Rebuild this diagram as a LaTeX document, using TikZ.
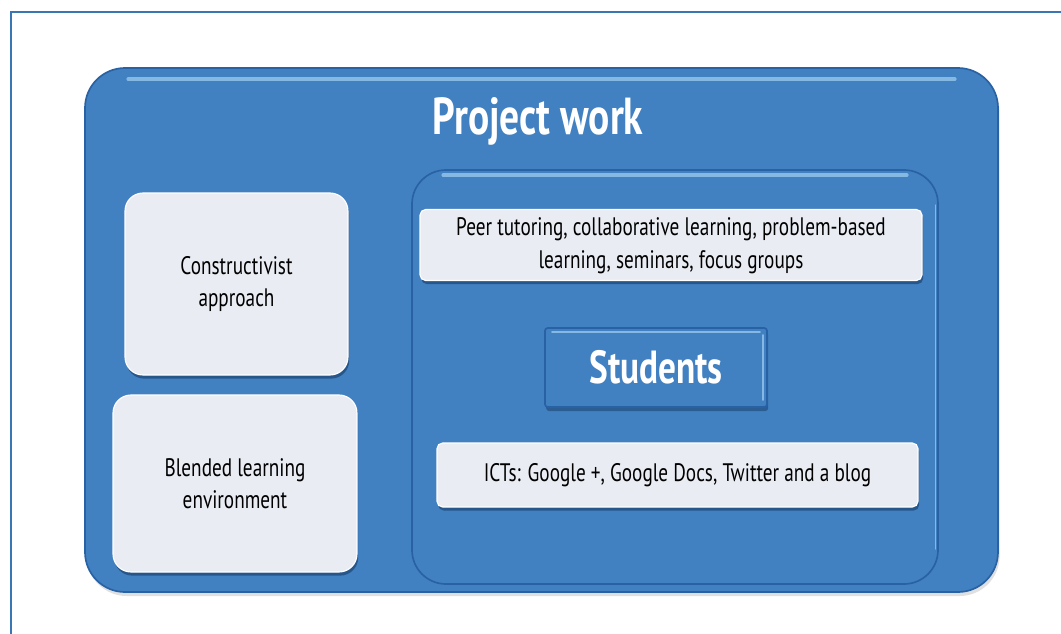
\documentclass[tikz,border=0pt]{standalone}
\usepackage{fontspec}
\setmainfont[FakeStretch=0.76]{PT Sans}
\usetikzlibrary{positioning,shadows}

\definecolor{pwblue}{RGB}{66,129,193}
\definecolor{pwedge}{RGB}{40,98,165}
\definecolor{pwcard}{RGB}{233,236,243}
\definecolor{pwgloss}{RGB}{150,200,236}
\definecolor{pwframe}{RGB}{58,118,180}
\newcommand{\pw}{0.025cm}

\begin{document}
\begin{tikzpicture}[x=0.025cm,y=-0.025cm]
\tikzstyle{bluebox}=[draw=pwedge,fill=pwblue,line width=1.2pt,inner sep=0pt]
\tikzstyle{mainbox}=[bluebox,rounded corners=1cm,drop shadow={shadow xshift=0.04cm,shadow yshift=-0.1cm,fill=black!30,opacity=.4}]
\tikzstyle{panel}=[bluebox,rounded corners=0.85cm]
\tikzstyle{card}=[draw=white,line width=0.8pt,fill=pwcard,text=black,align=center,inner sep=0pt,font=\fontsize{18}{23}\selectfont,drop shadow={shadow xshift=0.03cm,shadow yshift=-0.09cm,fill=pwedge!70!black,opacity=.7}]
\tikzstyle{studbox}=[bluebox,rounded corners=2pt,text=white,font=\bfseries\fontsize{33}{36}\selectfont,drop shadow={shadow xshift=0.03cm,shadow yshift=-0.1cm,fill=pwedge!70!black,opacity=.6}]
\tikzstyle{gloss}=[draw=pwgloss,line width=2.5pt,line cap=round,opacity=.8]

\useasboundingbox (0,0) rectangle (1061,633);
% page frame, cut off at the right and bottom
\draw[pwframe,line width=1pt] (11,640) -- (11,12) -- (1070,12);

\node[mainbox,minimum width=913*\pw,minimum height=524*\pw] (main) at (541.5,330) {};
\node[text=white,font=\bfseries\fontsize{37}{40}\selectfont] (title) at (538,121) {Project work};

% left column
\node[card,rounded corners=0.45cm,minimum width=223*\pw,minimum height=182*\pw] (cons) at (236.5,284) {Constructivist\\approach};
\node[card,rounded corners=0.45cm,minimum width=244*\pw,minimum height=177*\pw] (blend) at (235,483.5) {Blended learning\\environment};

% right panel
\node[panel,minimum width=526*\pw,minimum height=414*\pw] (panel) at (675,377) {};
\node[card,rounded corners=4pt,minimum width=502*\pw,minimum height=71*\pw,text depth=0.1cm] (peer) at (671,245) {Peer tutoring, collaborative learning, problem-based\\learning, seminars, focus groups};
\node[studbox,minimum width=222*\pw,minimum height=79*\pw] (stud) at (656,367.5) {Students};
\node[card,rounded corners=4pt,minimum width=481*\pw,minimum height=64*\pw] (icts) at (677.5,475) {ICTs: Google +, Google Docs, Twitter and a blog};

% glossy edges
\draw[gloss] ([xshift=1.1cm,yshift=-0.3cm]main.north west) -- ([xshift=-1.1cm,yshift=-0.3cm]main.north east);
\draw[gloss] ([xshift=0.8cm,yshift=-0.15cm]panel.north west) -- ([xshift=-0.8cm,yshift=-0.15cm]panel.north east);
\draw[gloss,line width=1.2pt] ([xshift=-0.08cm,yshift=-0.9cm]panel.north east) -- ([xshift=-0.08cm,yshift=0.9cm]panel.south east);
\draw[gloss,line width=1.5pt] ([xshift=0.2cm,yshift=-0.12cm]stud.north west) -- ([xshift=-0.2cm,yshift=-0.12cm]stud.north east);
\draw[gloss,line width=1.5pt] ([xshift=-0.12cm,yshift=-0.2cm]stud.north east) -- ([xshift=-0.12cm,yshift=0.2cm]stud.south east);
\end{tikzpicture}
\end{document}
